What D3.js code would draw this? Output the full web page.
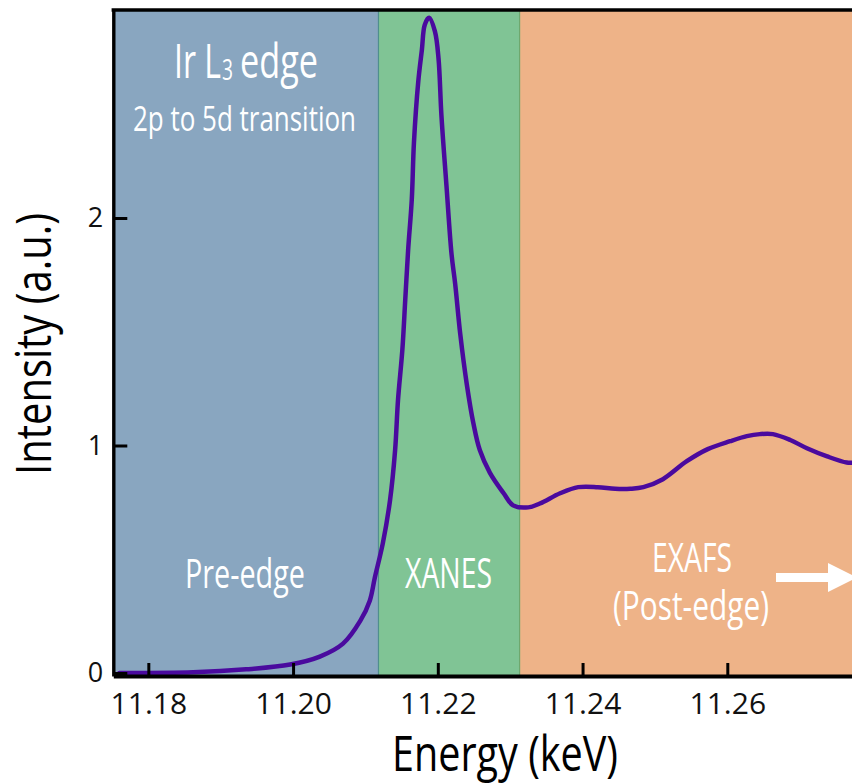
<!DOCTYPE html>
<html>
<head>
<meta charset="utf-8">
<script src="https://cdn.jsdelivr.net/npm/d3@7"></script>
<style>
  html, body { margin: 0; padding: 0; background: #fff; }
  svg { display: block; }
</style>
</head>
<body>
<svg id="chart" width="852" height="784"></svg>
<script>
// Ir L3-edge absorption spectrum (energy in keV, normalised intensity)
const energy = [
  11.1760, 11.1862, 11.1935, 11.1996, 11.2037, 11.2069, 11.2093, 11.2106,
  11.2113, 11.2124, 11.2134, 11.2141, 11.2145, 11.2151, 11.2155, 11.2159,
  11.2164, 11.2167, 11.2173, 11.2178, 11.2182, 11.2188, 11.2196, 11.2201,
  11.2205, 11.2212, 11.2219, 11.2224, 11.2231, 11.2240, 11.2249, 11.2258,
  11.2272, 11.2291, 11.2304, 11.2325, 11.2341, 11.2369, 11.2394, 11.2421,
  11.2445, 11.2466, 11.2484, 11.2511, 11.2544, 11.2573, 11.2604, 11.2627,
  11.2645, 11.2663, 11.2687, 11.2710, 11.2738, 11.2765, 11.2775
];
const intensity = [
  0.000, 0.003, 0.016, 0.037, 0.072, 0.129, 0.230, 0.318,
  0.420, 0.570, 0.760, 0.980, 1.200, 1.420, 1.640, 1.860,
  2.080, 2.330, 2.600, 2.740, 2.850, 2.880, 2.820, 2.700,
  2.450, 2.140, 1.840, 1.710, 1.490, 1.270, 1.100, 0.980,
  0.880, 0.790, 0.737, 0.728, 0.745, 0.790, 0.817, 0.817,
  0.810, 0.810, 0.817, 0.852, 0.931, 0.984, 1.019, 1.041,
  1.050, 1.050, 1.024, 0.988, 0.952, 0.925, 0.925
];

// Spectral regions (keV)
const regionNames  = ["Pre-edge", "XANES", "EXAFS"];
const regionStarts = [11.1752, 11.2118, 11.2313];
const regionEnds   = [11.2118, 11.2313, 11.2775];

const xTicks = [11.18, 11.20, 11.22, 11.24, 11.26];
const yTicks = [0, 1, 2];

const regionFill   = ["#89a6c0", "#80c495", "#eeb388"];
const regionBorder = [null, "#4f8f8c", "#6ea86e"];

const svg = d3.select("#chart");
const plotLeft = 113.3, plotRight = 852, plotTop = 10, plotBottom = 676;

const x = d3.scaleLinear().domain([11.17516, 11.27723]).range([plotLeft, plotRight]);
const y = d3.scaleLinear().domain([-0.0132, 2.9143]).range([plotBottom, plotTop]);

svg.append("defs").append("clipPath").attr("id", "plot-clip")
  .append("rect").attr("x", plotLeft).attr("y", plotTop)
  .attr("width", plotRight - plotLeft).attr("height", plotBottom - plotTop);

const plot = svg.append("g").attr("clip-path", "url(#plot-clip)");

// coloured background bands
plot.selectAll("rect.band")
  .data(regionNames)
  .join("rect")
  .attr("class", "band")
  .attr("x", (d, i) => x(regionStarts[i]))
  .attr("y", plotTop)
  .attr("width", (d, i) => x(regionEnds[i]) - x(regionStarts[i]))
  .attr("height", plotBottom - plotTop)
  .attr("fill", (d, i) => regionFill[i]);

plot.selectAll("line.border")
  .data(regionNames.slice(1))
  .join("line")
  .attr("class", "border")
  .attr("x1", (d, i) => x(regionStarts[i + 1]))
  .attr("x2", (d, i) => x(regionStarts[i + 1]))
  .attr("y1", plotTop).attr("y2", plotBottom)
  .attr("stroke", (d, i) => regionBorder[i + 1])
  .attr("stroke-width", 1.2);

// spectrum
const line = d3.line()
  .x((d, i) => x(energy[i]))
  .y((d, i) => y(intensity[i]))
  .curve(d3.curveCatmullRom.alpha(0.5));

plot.append("path")
  .attr("d", line(energy))
  .attr("fill", "none")
  .attr("stroke", "#4a0a9e")
  .attr("stroke-width", 4.5)
  .attr("stroke-linejoin", "round")
  .attr("stroke-linecap", "round");

// axes
const xAxis = d3.axisBottom(x).tickValues(xTicks).tickFormat(d3.format(".2f"))
  .tickSizeInner(-13).tickSizeOuter(0).tickPadding(17);
const yAxis = d3.axisLeft(y).tickValues(yTicks).tickFormat(d3.format("d"))
  .tickSizeInner(-14).tickSizeOuter(0).tickPadding(10);

const gx = svg.append("g").attr("transform", `translate(0,${plotBottom})`).call(xAxis);
const gy = svg.append("g").attr("transform", `translate(${plotLeft},0)`).call(yAxis);

gx.select(".domain").attr("stroke", "#000").attr("stroke-width", 4);
gy.select(".domain").attr("stroke", "#000").attr("stroke-width", 3.4);
gx.selectAll(".tick line").attr("stroke", "#000").attr("stroke-width", 3);
gy.selectAll(".tick line").attr("stroke", "#000").attr("stroke-width", 3);
gx.selectAll(".tick text")
  .attr("font-family", "'Open Sans', sans-serif").attr("font-size", 30)
  .attr("fill", "#111").attr("dy", "0.71em");
gy.selectAll(".tick text")
  .attr("font-family", "'Open Sans', sans-serif").attr("font-size", 27)
  .attr("fill", "#111");

// top frame line
svg.append("line")
  .attr("x1", plotLeft - 1.7).attr("x2", plotRight)
  .attr("y1", plotTop).attr("y2", plotTop)
  .attr("stroke", "#000").attr("stroke-width", 3.4);

// condensed-style labels
const cond = "'Open Sans', 'Noto Sans', sans-serif";
function label(g, txt, px, base, size, len, color, anchor) {
  return g.append("text")
    .attr("x", px).attr("y", base)
    .attr("text-anchor", anchor || "middle")
    .attr("font-family", cond)
    .attr("font-size", size)
    .attr("fill", color || "#fff")
    .attr("textLength", len)
    .attr("lengthAdjust", "spacingAndGlyphs")
    .text(txt);
}

// title block: "Ir L3 edge" with subscript 3
label(svg, "Ir L", 174, 78, 48, 47, "#fff", "start");
label(svg, "3", 222, 79.5, 29, 11, "#fff", "start");
label(svg, "edge", 240, 78, 48, 78, "#fff", "start");
label(svg, "2p to 5d transition", 244.5, 131, 34, 223);

// region labels
label(svg, regionNames[0], 245, 588, 41, 120);
label(svg, regionNames[1], 448.5, 588, 42, 87);
label(svg, regionNames[2], 692, 572, 40, 80);
label(svg, "(Post-edge)", 691, 620, 40, 156);

// arrow pointing to higher energies
svg.append("path")
  .attr("d", "M776,573 L828,573 L828,563 L857,577.5 L828,592 L828,582 L776,582 Z")
  .attr("fill", "#fff");

// axis titles
label(svg, "Energy (keV)", 505, 771, 49, 226, "#000");
svg.append("text")
  .attr("transform", "translate(51,344) rotate(-90)")
  .attr("text-anchor", "middle")
  .attr("font-family", cond).attr("font-size", 49).attr("fill", "#000")
  .attr("textLength", 262).attr("lengthAdjust", "spacingAndGlyphs")
  .text("Intensity (a.u.)");
</script>
</body>
</html>
